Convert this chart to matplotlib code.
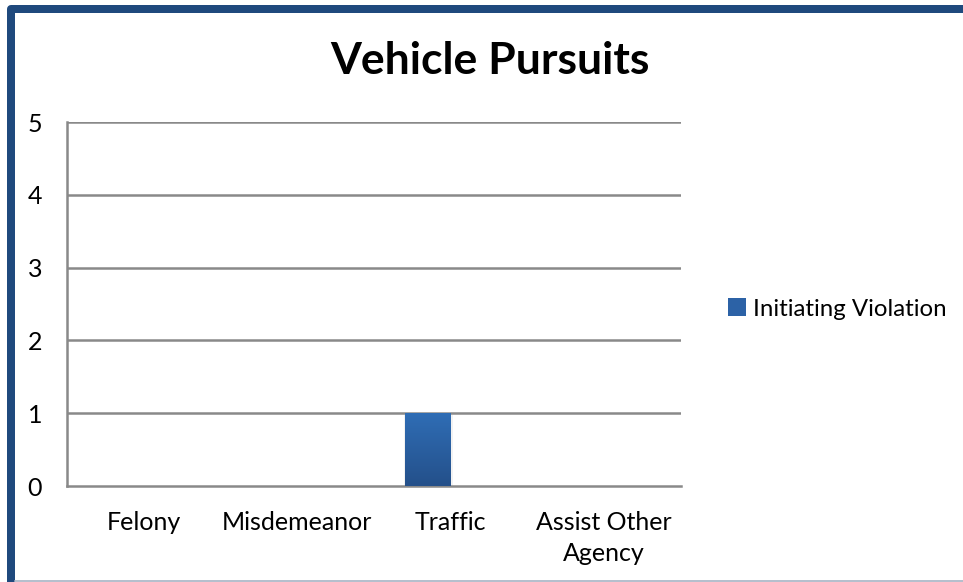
import matplotlib
matplotlib.use('Agg')
import matplotlib.pyplot as plt
import numpy as np
from matplotlib.lines import Line2D
from matplotlib.patches import Patch

plt.rcParams['font.family'] = ['Lato', 'DejaVu Sans']

# data
categories = ['Felony', 'Misdemeanor', 'Traffic', 'Assist Other\nAgency']
values = [0, 0, 1, 0]
series_name = 'Initiating Violation'

W, H = 963, 582
fig = plt.figure(figsize=(W / 100, H / 100), dpi=100)
ax = fig.add_axes([67 / W, 1 - 486 / H, (681 - 67) / W, (486 - 122) / H])

grid_c = '#898989'
x = np.arange(len(categories))
bar_w = 0.295
bars = ax.bar(x, values, width=-bar_w, align='edge', color='#2C62A6', zorder=3)

# vertical gradient on the bars
grad = np.linspace(0, 1, 256).reshape(-1, 1)
cmap = matplotlib.colors.LinearSegmentedColormap.from_list('g', ['#24508A', '#2F6DB5'])
for b in bars:
    if b.get_height() <= 0:
        continue
    x0, y0 = b.get_x(), b.get_y()
    w, h = b.get_width(), b.get_height()
    im = ax.imshow(grad, cmap=cmap, origin='lower', aspect='auto',
                   extent=[x0, x0 + w, y0, y0 + h], zorder=4)
    im.set_clip_path(b)
    # faint shadow
    ax.bar(x0 + w / 2, h, width=abs(w) + 0.025, bottom=-0.03,
           color='#000000', alpha=0.05, zorder=2)

ax.set_xlim(-0.5, len(categories) - 0.5)
ax.set_ylim(0, 5)
ax.set_yticks(range(6))
ax.set_xticks(x)
ax.set_xticklabels(categories, fontsize=18, linespacing=1.4)
ax.tick_params(axis='x', length=0, pad=18)
ax.tick_params(axis='y', length=0, pad=18, labelsize=18)
for t in ax.get_yticklabels():
    t.set_horizontalalignment('right')

for yv in range(1, 6):
    ax.axhline(yv, color=grid_c, lw=1.8, zorder=1)
for s in ['top', 'right']:
    ax.spines[s].set_visible(False)
ax.spines['left'].set_color(grid_c)
ax.spines['bottom'].set_color(grid_c)
ax.spines['left'].set_linewidth(1.8)
ax.spines['bottom'].set_linewidth(1.8)

fig.text(490 / W, 1 - 61 / H, 'Vehicle Pursuits', ha='center', va='center',
         fontsize=32, fontweight='bold')

fig.legend(handles=[Patch(facecolor='#2C62A6', label=series_name)],
           loc='center left', bbox_to_anchor=(728 / W, 1 - 309 / H),
           frameon=False, fontsize=17.3, handlelength=0.75, handleheight=0.75,
           handletextpad=0.3, borderpad=0, borderaxespad=0)

# frame around the picture (display pixels, origin bottom-left)
fig.add_artist(Line2D([11, 11, W + 5], [-5, H - 9, H - 9], transform=None,
                      color='#1F497D', lw=8 * 0.72, solid_joinstyle='round',
                      solid_capstyle='butt'))
fig.add_artist(Line2D([15, W], [0.8, 0.8], transform=None, color='#A7B3C4', lw=1.2))

fig.savefig('out.png', dpi=100, facecolor='white')
